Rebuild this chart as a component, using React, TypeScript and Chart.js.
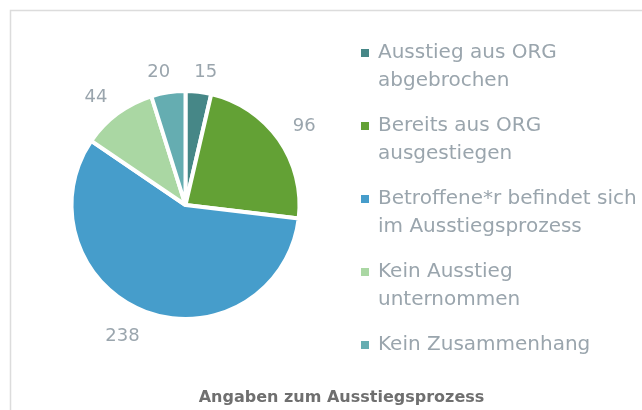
import React, { useEffect, useRef } from "react";
import { Chart, registerables } from "chart.js";

Chart.register(...registerables);

const categories: string[][] = [
  ["Ausstieg aus ORG", "abgebrochen"],
  ["Bereits aus ORG", "ausgestiegen"],
  ["Betroffene*r befindet sich", "im Ausstiegsprozess"],
  ["Kein Ausstieg", "unternommen"],
  ["Kein Zusammenhang"],
];
const values: number[] = [15, 96, 238, 44, 20];
const colors: string[] = ["#468787", "#63a135", "#469dcb", "#aad7a3", "#65adb1"];
const chartTitle = "Angaben zum Ausstiegsprozess";

const FONT = "'DejaVu Sans', 'Open Sans', sans-serif";
const LABEL_COLOR = "#9aa5ad";

const framePlugin = {
  id: "frame",
  beforeDraw(chart: any) {
    const ctx = chart.ctx;
    ctx.save();
    ctx.fillStyle = "#ffffff";
    ctx.fillRect(0, 0, chart.width, chart.height);
    ctx.strokeStyle = "#dcdcdc";
    ctx.lineWidth = 1.5;
    ctx.strokeRect(10.5, 10.5, 800, 600);
    ctx.restore();
  },
};

const valueLabelPlugin = {
  id: "valueLabels",
  afterDatasetsDraw(chart: any) {
    const ctx = chart.ctx;
    const meta = chart.getDatasetMeta(0);
    ctx.save();
    ctx.font = `18px ${FONT}`;
    ctx.fillStyle = LABEL_COLOR;
    ctx.textAlign = "center";
    ctx.textBaseline = "middle";
    meta.data.forEach((arc: any, i: number) => {
      const p = arc.getProps(["x", "y", "startAngle", "endAngle", "outerRadius"], true);
      const mid = (p.startAngle + p.endAngle) / 2;
      const c = Math.cos(mid);
      const s = Math.sin(mid);
      const R = p.outerRadius + 17;
      const text = String(chart.data.datasets[0].data[i]);
      const w = ctx.measureText(text).width;
      const sx = Math.sign(c) * Math.min(1, Math.abs(c) * 4);
      const sy = Math.abs(s) < 0.05 ? 0 : Math.sign(s);
      const lx = p.x + c * R + sx * (w / 2);
      const ly = p.y + s * R + sy * 6 + 3;
      ctx.fillText(text, lx, ly);
    });
    ctx.restore();
  },
};

const legendPlugin = {
  id: "customLegend",
  afterDraw(chart: any) {
    const ctx = chart.ctx;
    const meta = chart.getDatasetMeta(0);
    ctx.save();
    ctx.font = `20px ${FONT}`;
    ctx.textBaseline = "alphabetic";
    ctx.textAlign = "left";
    const boxX = 361;
    const textX = 378;
    const top = 58;
    const step = 73;
    const lineH = 28;
    (chart.data.labels as string[][]).forEach((lines, i) => {
      const y = top + i * step;
      const bg = meta.data[i]?.options?.backgroundColor || colors[i];
      ctx.fillStyle = bg;
      ctx.fillRect(boxX, y - 9, 8, 8);
      ctx.fillStyle = LABEL_COLOR;
      lines.forEach((line, j) => {
        ctx.fillText(line, textX, y + j * lineH);
      });
    });
    ctx.font = `bold 16px ${FONT}`;
    ctx.fillStyle = "#6f6f6f";
    ctx.textAlign = "center";
    ctx.fillText(chartTitle, 341.5, 402);
    ctx.restore();
  },
};

export default function App() {
  const ref = useRef<HTMLCanvasElement | null>(null);
  useEffect(() => {
    if (!ref.current) return;
    const chart = new Chart(ref.current, {
      type: "pie",
      data: {
        labels: categories,
        datasets: [
          {
            data: values,
            backgroundColor: colors,
            borderColor: "#ffffff",
            borderWidth: 4,
          },
        ],
      },
      options: {
        animation: false,
        responsive: false,
        radius: 114,
        layout: { padding: { left: 60, right: 331, top: 80, bottom: 80 } },
        plugins: {
          legend: { display: false },
          tooltip: { enabled: false },
          title: { display: false },
        },
      } as any,
      plugins: [framePlugin, valueLabelPlugin, legendPlugin],
    });
    return () => chart.destroy();
  }, []);
  return (
    <div style={{ position: "fixed", left: 0, top: 0, width: 642, height: 410 }}>
      <canvas ref={ref} width={642} height={410} />
    </div>
  );
}
